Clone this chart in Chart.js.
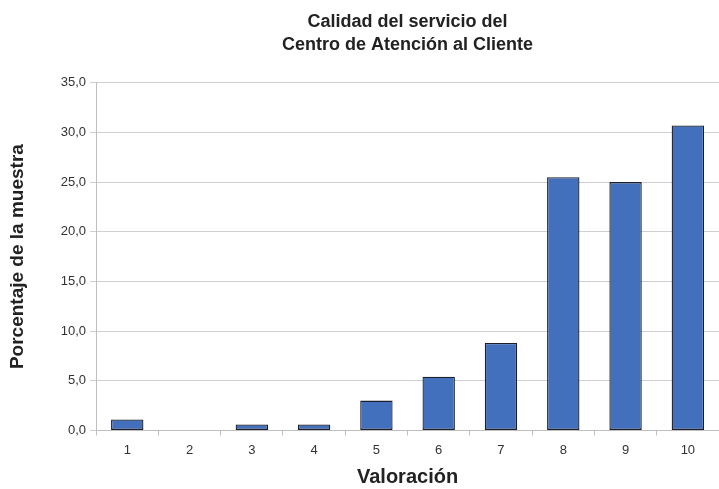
<!DOCTYPE html>
<html>
<head>
<meta charset="utf-8">
<script src="https://cdn.jsdelivr.net/npm/chart.js@4"></script>
<style>
  html, body { margin: 0; padding: 0; background: #fff; }
  #wrap { width: 719px; height: 489px; }
</style>
</head>
<body>
<div id="wrap"><canvas id="grafico"></canvas></div>
<script>
const valoraciones = ["1", "2", "3", "4", "5", "6", "7", "8", "9", "10"];
const porcentajes = [1.1, 0, 0.6, 0.6, 3.0, 5.4, 8.8, 25.5, 25.0, 30.7];
const tituloGrafico = ["Calidad del servicio del", "Centro de Atención al Cliente"];

const fuente = "'Liberation Sans', Arial, sans-serif";

new Chart(document.getElementById("grafico"), {
  type: "bar",
  data: {
    labels: valoraciones,
    datasets: [
      {
        label: "Porcentaje",
        data: porcentajes,
        backgroundColor: "#4270bd",
        borderColor: "#1a1f2b",
        borderWidth: 1.3,
        borderSkipped: false,
        categoryPercentage: 1,
        barPercentage: 0.52,
      },
    ],
  },
  options: {
    responsive: true,
    maintainAspectRatio: false,
    animation: false,
    layout: { padding: { top: 10, right: 0, left: 6, bottom: 0 } },
    plugins: {
      legend: { display: false },
      tooltip: { enabled: false },
      title: {
        display: true,
        text: tituloGrafico,
        fullSize: false,
        color: "#222",
        font: { family: fuente, size: 18, weight: "bold", lineHeight: 1.3 },
        padding: { top: 0, bottom: 26 },
      },
    },
    scales: {
      x: {
        grid: {
          offset: true,
          drawOnChartArea: false,
          color: "#bfbfbf",
          tickLength: 5,
        },
        border: { color: "#bfbfbf" },
        ticks: { color: "#333", font: { family: fuente, size: 13 }, padding: 7 },
        title: {
          display: true,
          text: "Valoración",
          color: "#222",
          font: { family: fuente, size: 20, weight: "bold" },
          padding: { top: 0, bottom: 0 },
        },
      },
      y: {
        min: 0,
        max: 35,
        grid: { color: "#cfcfcf", tickLength: 6 },
        border: { color: "#bfbfbf" },
        ticks: {
          stepSize: 5,
          color: "#333",
          font: { family: fuente, size: 13 },
          padding: 4,
          callback: (v) => v.toFixed(1).replace(".", ","),
        },
        title: {
          display: true,
          text: "Porcentaje de la muestra",
          color: "#222",
          font: { family: fuente, size: 19, weight: "bold" },
          padding: { top: 0, bottom: 28 },
        },
      },
    },
  },
});
</script>
</body>
</html>
